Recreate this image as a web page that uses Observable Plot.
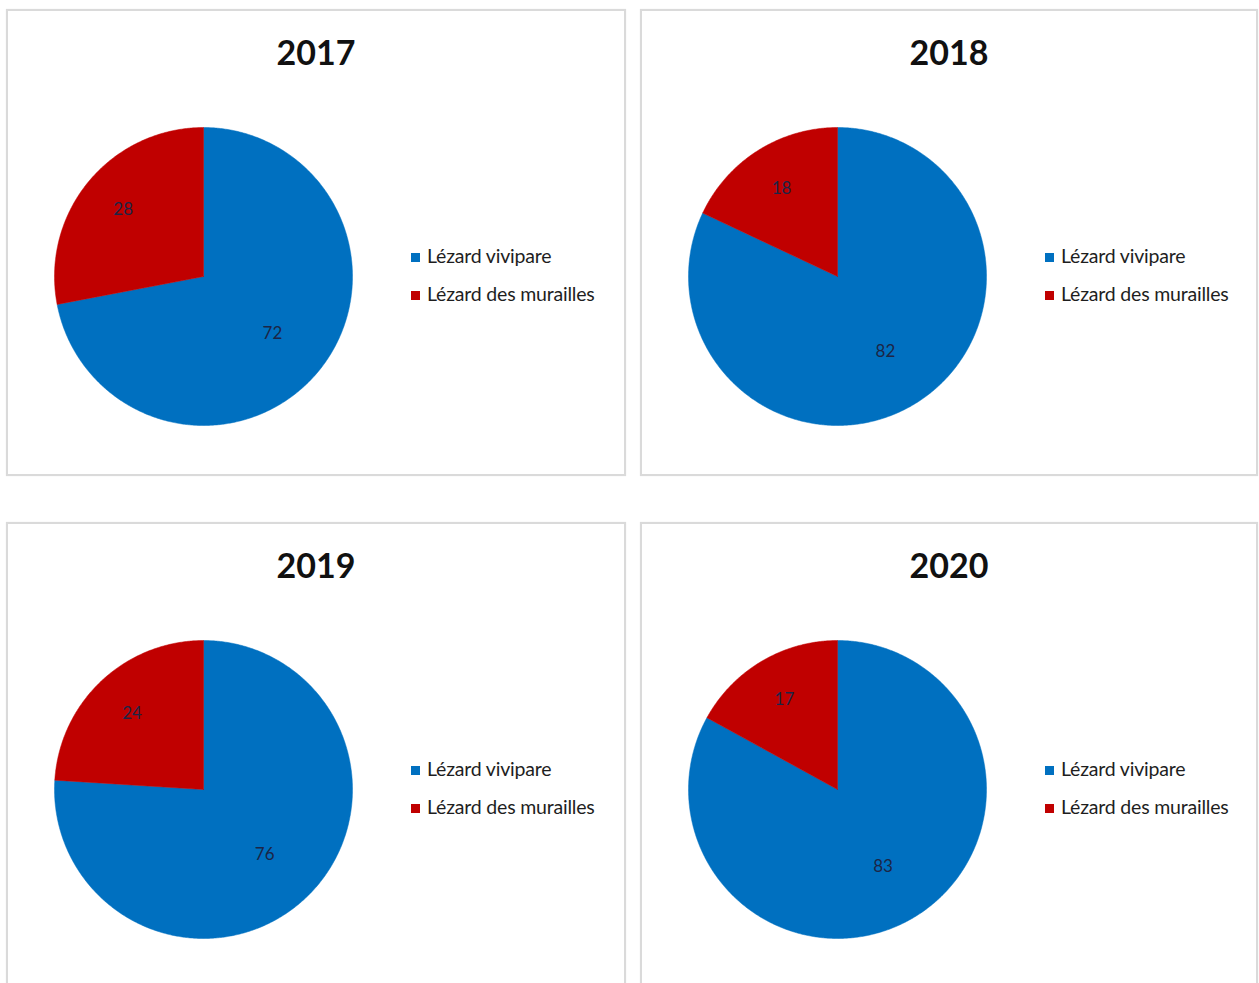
<!DOCTYPE html>
<html><head><meta charset="utf-8">
<script src="https://cdn.jsdelivr.net/npm/d3@7"></script>
<script src="https://cdn.jsdelivr.net/npm/@observablehq/plot@0.6"></script>
<style>
html,body{margin:0;padding:0;background:#fff;overflow:hidden;width:1259px;height:983px;}
.panel{position:absolute;box-sizing:border-box;border:2px solid #dadada;background:#fff;box-shadow:0 0 1px #e8e8e8;}
.title{position:absolute;left:0;right:0;top:24px;text-align:center;font-family:Lato,sans-serif;font-weight:bold;font-size:34px;line-height:34px;color:#111;}
.pie{position:absolute;left:35px;top:105px;}
.leg{position:absolute;left:403px;font-family:Lato,sans-serif;font-size:19.5px;line-height:19px;color:#1e1e1e;white-space:nowrap;letter-spacing:-0.2px;}
.leg .sw{display:inline-block;width:9px;height:9px;margin-right:7px;vertical-align:1px;}
</style></head><body>
<script>
const years = ["2017", "2018", "2019", "2020"];
const species = ["Lézard vivipare", "Lézard des murailles"];
const vivipare = [72, 82, 76, 83];
const murailles = [28, 18, 24, 17];
const colors = ["#0070C0", "#C00000"];

const panelLayout = [
  {left: 6, top: 9, width: 620, height: 467},
  {left: 640, top: 9, width: 618, height: 467},
  {left: 6, top: 522, width: 620, height: 467},
  {left: 640, top: 522, width: 618, height: 467}
];

function pieData(vals) {
  const total = d3.sum(vals);
  let acc = 0;
  const pts = [], labels = [];
  vals.forEach((v, i) => {
    const a0 = acc / total * 2 * Math.PI, a1 = (acc + v) / total * 2 * Math.PI;
    pts.push({s: species[i], x: 0, y: 0});
    const n = Math.max(2, Math.ceil((a1 - a0) / (Math.PI / 360)));
    for (let k = 0; k <= n; k++) {
      const a = a0 + (a1 - a0) * k / n;
      pts.push({s: species[i], x: Math.sin(a), y: Math.cos(a)});
    }
    pts.push({s: species[i], x: 0, y: 0});
    const am = (a0 + a1) / 2;
    const rr = i === 0 ? 0.6 : 0.7;
    labels.push({s: species[i], v, x: rr * Math.sin(am), y: rr * Math.cos(am)});
    acc += v;
  });
  return {pts, labels};
}

years.forEach((yr, idx) => {
  const L = panelLayout[idx];
  const panel = document.createElement("div");
  panel.className = "panel";
  Object.assign(panel.style, {left: L.left + "px", top: L.top + "px", width: L.width + "px", height: L.height + "px"});
  document.body.appendChild(panel);

  const t = document.createElement("div");
  t.className = "title";
  t.textContent = yr;
  panel.appendChild(t);

  const {pts, labels} = pieData([vivipare[idx], murailles[idx]]);
  const chart = Plot.plot({
    width: 320, height: 320, margin: 0,
    style: {fontFamily: "Lato, sans-serif", background: "transparent"},
    x: {axis: null, domain: [-1, 1], range: [11, 309]},
    y: {axis: null, domain: [-1, 1], range: [309, 11]},
    color: {domain: species, range: colors},
    marks: [
      Plot.line(pts, {x: "x", y: "y", z: "s", fill: "s", stroke: "s", strokeWidth: 0.5}),
      Plot.text(labels, {x: "x", y: "y", text: d => String(d.v), fontSize: 17, fill: "#1c2546"})
    ]
  });
  const holder = document.createElement("div");
  holder.className = "pie";
  holder.appendChild(chart);
  panel.appendChild(holder);

  species.forEach((sp, i) => {
    const row = document.createElement("div");
    row.className = "leg";
    row.style.top = (235 + i * 38) + "px";
    const sw = document.createElement("span");
    sw.className = "sw";
    sw.style.background = colors[i];
    row.appendChild(sw);
    row.appendChild(document.createTextNode(sp));
    panel.appendChild(row);
  });
});
</script>
</body></html>
